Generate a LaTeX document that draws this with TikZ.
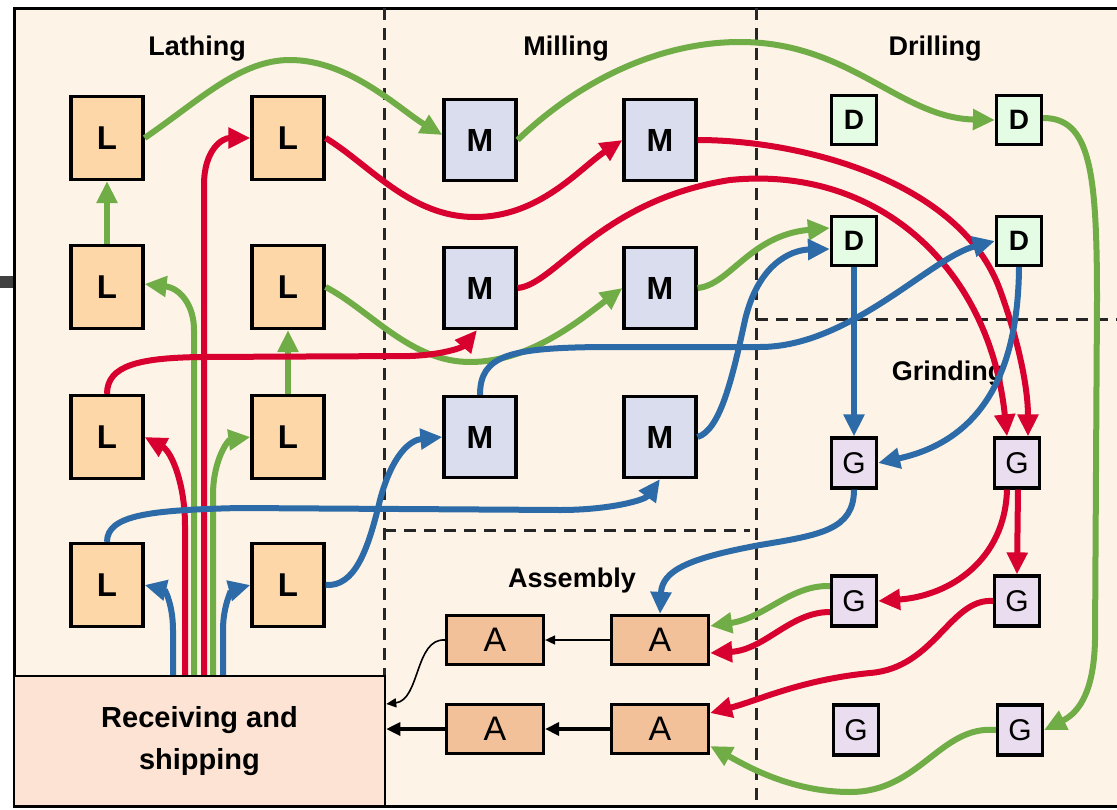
\documentclass[tikz,border=0pt]{standalone}
\usepackage{fontspec}
\setmainfont{Liberation Sans}
\usetikzlibrary{arrows.meta,calc}
\definecolor{bgc}{HTML}{FDF3E7}
\definecolor{recc}{HTML}{FCE3D3}
\definecolor{lc}{HTML}{FDD7A8}
\definecolor{mc}{HTML}{DADDED}
\definecolor{dc}{HTML}{E4FBE4}
\definecolor{gc}{HTML}{EBDDF0}
\definecolor{ac}{HTML}{F2C199}
\definecolor{gr}{HTML}{70AD47}
\definecolor{rd}{HTML}{D8002E}
\definecolor{bl}{HTML}{2C6BA7}
\begin{document}
\begin{tikzpicture}[x=1pt,y=-1pt,
  hdr/.style={font=\bfseries\fontsize{27}{27}\selectfont, anchor=base, inner sep=0pt},
  box/.style={draw=black,line width=3.2pt,inner sep=0pt},
  lbox/.style={box,fill=lc,minimum width=72pt,minimum height=83pt,font=\bfseries\fontsize{33}{33}\selectfont},
  mbox/.style={box,fill=mc,minimum width=72pt,minimum height=81pt,font=\bfseries\fontsize{32}{32}\selectfont},
  dbox/.style={box,fill=dc,minimum width=45pt,minimum height=49pt,font=\bfseries\fontsize{28}{28}\selectfont},
  gbox/.style={box,fill=gc,minimum width=45pt,minimum height=50pt,font=\fontsize{30}{30}\selectfont},
  abox/.style={box,fill=ac,minimum width=97pt,minimum height=49pt,font=\fontsize{34}{34}\selectfont},
  flow/.style={line width=6pt,-{Triangle[length=22pt,width=20pt]}},
  gflow/.style={flow,draw=gr},
  rflow/.style={flow,draw=rd},
  bflow/.style={flow,draw=bl},
  thinarr/.style={line width=1.6pt,-{Triangle[length=10pt,width=9pt]}},
  thickarr/.style={line width=3.2pt,-{Triangle[length=14pt,width=13pt]}},
  sepline/.style={line width=3pt,dash pattern=on 12pt off 8pt,draw=black!85}
]
\useasboundingbox (0,0) rectangle (1117,809);
\fill[white] (0,0) rectangle (1117,809);
\draw[line width=3pt,fill=bgc] (14,8) rectangle (1135,806);
\fill[black!75] (0,276) rectangle (13,288);

% separators
\draw[sepline] (384,8) -- (384,676);
\draw[sepline] (756,8) -- (756,806);
\draw[sepline] (384,530) -- (750,530);
\draw[sepline] (756,319) -- (1117,319);

% headers
\node[hdr] (hL) at (197,55) {Lathing};
\node[hdr] (hM) at (566,55) {Milling};
\node[hdr] (hD) at (935,55) {Drilling};
\node[hdr] (hG) at (948,380) {Grinding};
\node[hdr] (hA) at (572,587) {Assembly};

% receiving
\node[draw=black,line width=2.5pt,fill=recc,minimum width=371pt,minimum height=130pt,
      inner sep=0pt,align=center,font=\bfseries\fontsize{29}{42}\selectfont] (R) at (199.5,741) {Receiving and\\shipping};

% lathes
\node[lbox] (L1) at (107,138) {L};
\node[lbox] (L2) at (288,138) {L};
\node[lbox] (L3) at (107,287) {L};
\node[lbox] (L4) at (288,287) {L};
\node[lbox] (L5) at (107,437) {L};
\node[lbox] (L6) at (288,437) {L};
\node[lbox] (L7) at (107,585) {L};
\node[lbox] (L8) at (288,585) {L};
% mills
\node[mbox] (M1) at (480,140) {M};
\node[mbox] (M2) at (660,140) {M};
\node[mbox] (M3) at (480,288) {M};
\node[mbox] (M4) at (660,288) {M};
\node[mbox] (M5) at (480,437) {M};
\node[mbox] (M6) at (660,437) {M};
% drills
\node[dbox] (D1) at (854,120) {D};
\node[dbox] (D2) at (1019,120) {D};
\node[dbox] (D3) at (854,241) {D};
\node[dbox] (D4) at (1019,241) {D};
% grinders
\node[gbox] (G1) at (854,463) {G};
\node[gbox] (G2) at (1017,463) {G};
\node[gbox] (G3) at (854,601) {G};
\node[gbox] (G4) at (1017,601) {G};
\node[gbox] (G5) at (856,730) {G};
\node[gbox] (G6) at (1020,730) {G};
% assembly
\node[abox] (A1) at (495,640) {A};
\node[abox] (A2) at (660,640) {A};
\node[abox] (A3) at (495,729) {A};
\node[abox] (A4) at (660,729) {A};

% green flows
\draw[gflow] (L1.east) .. controls (200,100) and (240,60) .. (290,60) .. controls (350,60) and (400,110) .. ($(M1.west)+(0,-5)$);
\draw[gflow] (M1.east) .. controls (580,80) and (660,42) .. (740,42) .. controls (850,42) and (900,118) .. (D2.west);
\draw[gflow] ($(D2.east)+(0,-2)$) .. controls (1090,118) and (1097,170) .. (1097,300) -- (1095,640) .. controls (1094,690) and (1080,712) .. (G6.east);
\draw[gflow] (G6.west) .. controls (940,725) and (920,792) .. (850,792) .. controls (790,792) and (745,765) .. ($(A4.east)+(0,17)$);
\draw[gflow] ($(G3.west)+(0,-15)$) .. controls (790,585) and (765,618) .. ($(A2.east)+(0,-14)$);
\draw[gflow] (L3.north) -- (L1.south);
\draw[gflow] (L6.north) -- (L4.south);
\draw[gflow] (L4.east) .. controls (370,310) and (410,362) .. (470,362) .. controls (530,362) and (580,320) .. (M4.west);
\draw[gflow] (M4.east) .. controls (730,285) and (750,235) .. ($(D3.west)+(0,-13)$);
\draw[gflow] ($(R.north)+(-5.5,0)$) -- (194,330) .. controls (194,305) and (180,288) .. ($(L3.east)+(0,-3)$);
\draw[gflow] ($(R.north)+(13.5,0)$) -- (213,495) .. controls (213,460) and (228,440) .. (L6.west);

% red flows
\draw[rflow] ($(R.north)+(-14.5,0)$) -- (185,525) .. controls (185,485) and (172,452) .. (L5.east);
\draw[rflow] ($(R.north)+(4.5,0)$) -- (204,185) .. controls (204,150) and (222,138) .. (L2.west);
\draw[rflow] (L2.east) .. controls (370,165) and (410,217) .. (475,217) .. controls (540,217) and (580,168) .. (M2.west);
\draw[rflow] (M2.east) .. controls (800,140) and (960,180) .. (1000,290) .. controls (1020,345) and (1028,390) .. ($(G2.north)+(11,0)$);
\draw[rflow] (M3.east) .. controls (555,285) and (600,200) .. (730,180) .. controls (880,165) and (990,270) .. ($(G2.north)+(-10,0)$);
\draw[rflow] (L5.north) .. controls (107,365) and (140,358) .. (200,357) -- (410,356) .. controls (440,355) and (462,348) .. ($(M3.south)+(-3,0)$);
\draw[rflow] ($(G2.south)+(1,0)$) -- (G4.north);
\draw[rflow] ($(G2.south)+(-10,0)$) .. controls (1005,560) and (950,596) .. (G3.east);
\draw[rflow] ($(G3.west)+(0,11)$) .. controls (790,612) and (765,650) .. ($(A2.east)+(0,13)$);
\draw[rflow] (G4.west) .. controls (950,598) and (935,668) .. (870,673) .. controls (800,680) and (760,700) .. ($(A4.east)+(0,-16)$);

% blue flows
\draw[bflow] ($(R.north)+(-26.5,0)$) -- (173,630) .. controls (173,605) and (165,590) .. (L7.east);
\draw[bflow] ($(R.north)+(23.5,0)$) -- (223,630) .. controls (223,605) and (232,590) .. (L8.west);
\draw[bflow] (L7.north) .. controls (107,515) and (150,510) .. (240,508) -- (560,510) .. controls (610,510) and (645,500) .. (M6.south);
\draw[bflow] (L8.east) .. controls (355,587) and (368,550) .. (380,500) .. controls (392,455) and (410,440) .. (M5.west);
\draw[bflow] (M5.north) .. controls (480,355) and (510,348) .. (600,347) -- (760,347) .. controls (850,347) and (930,258) .. (D4.west);
\draw[bflow] (M6.east) .. controls (720,430) and (732,380) .. (745,320) .. controls (758,265) and (790,250) .. ($(D3.west)+(0,8)$);
\draw[bflow] (D3.south) -- (G1.north);
\draw[bflow] (D4.south) .. controls (1018,400) and (960,445) .. (G1.east);
\draw[bflow] (G1.south) .. controls (854,530) and (820,535) .. (760,545) .. controls (690,558) and (662,570) .. (A2.north);

% black flows
\draw[thinarr] (A2.west) -- (A1.east);
\draw[thickarr] (A4.west) -- (A3.east);
\draw[thickarr] (A3.west) -- (A3.west -| R.east);
\draw[thinarr] (A1.west) .. controls (415,638) and (420,700) .. ($(R.east)+(0,-37)$);
\end{tikzpicture}
\end{document}
